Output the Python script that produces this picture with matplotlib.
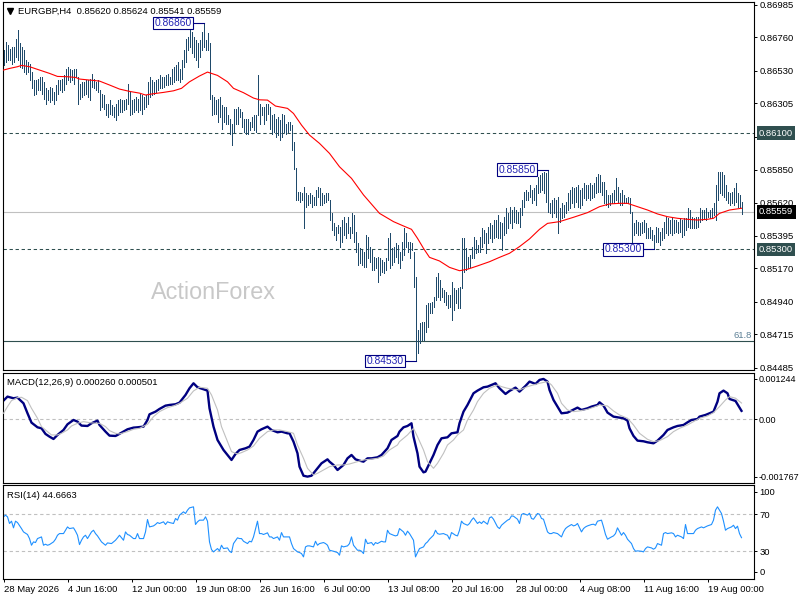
import matplotlib
matplotlib.use("Agg")
import matplotlib.pyplot as plt
import matplotlib.transforms as mtransforms
from matplotlib.lines import Line2D
import numpy as np

plt.rcParams['font.family'] = ['Liberation Sans', 'DejaVu Sans']

# EURGBP H4 bars, high / low in points (1e-5)
bar_high = [
    86672, 86729, 86706, 86683, 86695, 86695, 86752, 86810, 86718, 86695,
    86672, 86603, 86592, 86580, 86522, 86465, 86465, 86476, 86488, 86488,
    86453, 86408, 86396, 86419, 86408, 86385, 86431, 86465, 86465, 86476,
    86499, 86545, 86557, 86545, 86534, 86545, 86545, 86488, 86442, 86453,
    86453, 86465, 86465, 86476, 86511, 86476, 86453, 86465, 86396, 86373,
    86362, 86304, 86304, 86327, 86293, 86281, 86304, 86327, 86339, 86327,
    86327, 86339, 86442, 86385, 86327, 86339, 86350, 86339, 86373, 86362,
    86350, 86362, 86453, 86488, 86465, 86453, 86465, 86476, 86499, 86488,
    86488, 86499, 86511, 86488, 86545, 86557, 86568, 86592, 86545, 86603,
    86672, 86752, 86764, 86810, 86798, 86764, 86741, 86718, 86741, 86798,
    86860, 86741, 86787, 86718, 86362, 86350, 86327, 86339, 86350, 86293,
    86281, 86281, 86224, 86201, 86166, 86270, 86270, 86281, 86270, 86247,
    86201, 86201, 86201, 86178, 86212, 86224, 86224, 86499, 86304, 86281,
    86281, 86304, 86304, 86281, 86224, 86235, 86201, 86212, 86189, 86235,
    86224, 86166, 86178, 86178, 86155, 86040, 85860, 85698, 85698, 85686,
    85732, 85686, 85675, 85686, 85675, 85663, 85709, 85732, 85721, 85686,
    85675, 85686, 85686, 85640, 85548, 85479, 85457, 85468, 85457, 85502,
    85525, 85479, 85525, 85457, 85548, 85537, 85422, 85342, 85307, 85296,
    85284, 85399, 85388, 85319, 85296, 85250, 85238, 85250, 85238, 85227,
    85215, 85238, 85376, 85411, 85307, 85319, 85342, 85330, 85284, 85353,
    85445, 85411, 85353, 85353, 85342, 85284, 85112, 84745, 84791, 84802,
    84802, 84917, 84928, 84928, 84940, 84974, 85112, 85135, 85089, 85032,
    85020, 85009, 84986, 84986, 85078, 85032, 85020, 85032, 85043, 85376,
    85376, 85307, 85250, 85261, 85319, 85388, 85365, 85330, 85388, 85445,
    85434, 85411, 85457, 85479, 85468, 85502, 85502, 85537, 85491, 85479,
    85525, 85583, 85548, 85594, 85571, 85594, 85571, 85560, 85583, 85640,
    85698, 85709, 85698, 85744, 85709, 85721, 85744, 85801, 85812, 85824,
    85835, 85829, 85850, 85617, 85640, 85652, 85640, 85663, 85583, 85617,
    85606, 85629, 85686, 85709, 85732, 85721, 85732, 85744, 85709, 85721,
    85755, 85744, 85744, 85755, 85744, 85755, 85801, 85819, 85812, 85767,
    85767, 85709, 85675, 85675, 85686, 85709, 85789, 85732, 85686, 85709,
    85675, 85652, 85663, 85652, 85560, 85479, 85502, 85491, 85479, 85491,
    85502, 85479, 85445, 85457, 85434, 85399, 85457, 85445, 85422, 85445,
    85491, 85525, 85514, 85502, 85514, 85502, 85502, 85491, 85514, 85502,
    85514, 85514, 85583, 85571, 85525, 85514, 85525, 85525, 85583, 85571,
    85571, 85583, 85560, 85571, 85583, 85617, 85744, 85835, 85835, 85835,
    85812, 85744, 85698, 85686, 85698, 85721, 85755, 85686, 85675, 85624,
]
bar_low = [
    86568, 86592, 86603, 86603, 86580, 86592, 86626, 86603, 86557, 86546,
    86522, 86511, 86522, 86465, 86408, 86362, 86373, 86396, 86396, 86373,
    86339, 86304, 86327, 86316, 86327, 86304, 86327, 86373, 86396, 86385,
    86396, 86442, 86465, 86453, 86465, 86442, 86488, 86304, 86339, 86350,
    86362, 86373, 86350, 86327, 86419, 86408, 86396, 86385, 86258, 86281,
    86270, 86224, 86212, 86235, 86224, 86212, 86189, 86224, 86247, 86247,
    86258, 86270, 86304, 86224, 86235, 86247, 86258, 86247, 86258, 86235,
    86270, 86281, 86304, 86350, 86362, 86373, 86385, 86396, 86408, 86408,
    86419, 86431, 86431, 86442, 86442, 86453, 86465, 86465, 86453, 86476,
    86557, 86592, 86672, 86695, 86649, 86626, 86603, 86557, 86626, 86672,
    86695, 86672, 86672, 86339, 86224, 86235, 86235, 86178, 86212, 86132,
    86178, 86166, 86166, 86097, 86017, 86109, 86166, 86166, 86212, 86143,
    86109, 86097, 86097, 86120, 86143, 86120, 86109, 86224, 86166, 86224,
    86166, 86189, 86235, 86132, 86097, 86109, 86074, 86086, 86051, 86074,
    86109, 86097, 86109, 86120, 85982, 85856, 85640, 85640, 85629, 85640,
    85445, 85594, 85606, 85617, 85594, 85606, 85606, 85663, 85606, 85606,
    85617, 85629, 85640, 85502, 85434, 85399, 85365, 85411, 85319, 85353,
    85399, 85376, 85411, 85376, 85411, 85353, 85284, 85193, 85204, 85193,
    85181, 85181, 85238, 85215, 85158, 85158, 85170, 85078, 85124, 85147,
    85135, 85158, 85227, 85170, 85193, 85215, 85250, 85204, 85170, 85227,
    85261, 85319, 85284, 85238, 85296, 85043, 84530, 84584, 84653, 84676,
    84676, 84733, 84768, 84860, 84860, 84905, 84951, 84974, 84951, 84974,
    84940, 84917, 84894, 84905, 84814, 84883, 84928, 84894, 84894, 85032,
    85147, 85158, 85170, 85181, 85238, 85238, 85273, 85284, 85284, 85319,
    85342, 85273, 85342, 85376, 85353, 85376, 85388, 85376, 85376, 85296,
    85399, 85411, 85445, 85479, 85445, 85491, 85479, 85479, 85457, 85537,
    85594, 85640, 85640, 85663, 85617, 85640, 85606, 85686, 85698, 85709,
    85686, 85629, 85560, 85548, 85525, 85548, 85525, 85411, 85491, 85514,
    85525, 85548, 85571, 85583, 85617, 85594, 85629, 85594, 85583, 85606,
    85652, 85640, 85652, 85640, 85652, 85663, 85686, 85698, 85698, 85675,
    85617, 85606, 85594, 85606, 85617, 85617, 85640, 85629, 85606, 85606,
    85617, 85617, 85617, 85548, 85353, 85399, 85411, 85399, 85399, 85411,
    85422, 85376, 85376, 85376, 85365, 85300, 85353, 85353, 85330, 85365,
    85376, 85411, 85399, 85411, 85399, 85411, 85422, 85411, 85422, 85388,
    85399, 85434, 85457, 85445, 85445, 85445, 85445, 85457, 85491, 85502,
    85514, 85502, 85525, 85514, 85525, 85537, 85502, 85640, 85686, 85675,
    85663, 85640, 85617, 85606, 85617, 85606, 85629, 85594, 85583, 85541,
]

# red moving average read at selected bars (points)
ma_bar = [0, 3, 7, 9, 13, 18, 23, 27, 32, 36,
          38, 43, 48, 53, 58, 63, 68, 71, 75, 80,
          85, 89, 93, 98, 102, 107, 112, 115, 120, 125,
          128, 132, 136, 142, 145, 149, 153, 158, 163, 168,
          174, 180, 188, 195, 200, 204, 207, 210, 213, 218,
          223, 228, 232, 237, 243, 248, 253, 258, 263, 268,
          272, 278, 285, 292, 298, 303, 308, 312, 317, 322,
          327, 332, 337, 342, 347, 352, 355, 358, 363, 369]
ma_val = [86535, 86546, 86558, 86567, 86558, 86535, 86512, 86491, 86489, 86484,
          86473, 86466, 86459, 86432, 86404, 86388, 86376, 86363, 86372, 86381,
          86392, 86409, 86454, 86494, 86521, 86498, 86454, 86409, 86379, 86342,
          86330, 86328, 86287, 86271, 86236, 86156, 86087, 86030, 85961, 85869,
          85789, 85675, 85548, 85491, 85461, 85438, 85376, 85307, 85245, 85220,
          85176, 85153, 85163, 85186, 85215, 85245, 85273, 85319, 85372, 85438,
          85479, 85491, 85521, 85553, 85594, 85613, 85617, 85617, 85594, 85571,
          85544, 85525, 85514, 85507, 85502, 85507, 85514, 85548, 85571, 85583]

# MACD main and signal, in 1e-6
macd_bar = [0, 2, 5, 7, 10, 12, 14, 17, 19, 21,
            23, 25, 27, 30, 32, 35, 37, 39, 42, 44,
            47, 48, 51, 53, 56, 57, 60, 62, 65, 67,
            70, 72, 73, 76, 78, 81, 83, 86, 88, 91,
            93, 95, 97, 100, 102, 103, 105, 107, 110, 112,
            114, 116, 118, 121, 123, 125, 127, 129, 132, 134,
            137, 139, 142, 143, 145, 147, 148, 150, 152, 154,
            157, 159, 162, 163, 165, 167, 170, 172, 174, 176,
            178, 180, 182, 184, 187, 189, 192, 194, 197, 198,
            200, 202, 204, 205, 207, 208, 210, 211, 213, 215,
            217, 219, 222, 224, 227, 228, 230, 232, 235, 237,
            240, 242, 246, 248, 251, 253, 256, 258, 261, 263,
            266, 268, 270, 272, 273, 275, 277, 279, 282, 284,
            287, 289, 292, 294, 297, 298, 300, 302, 305, 307,
            310, 312, 313, 315, 317, 320, 322, 325, 327, 330,
            332, 335, 337, 340, 342, 344, 347, 348, 351, 353,
            355, 357, 358, 360, 362, 363, 366, 367, 369]
macd_val = [576, 699, 648, 668, 493, 185, -103, -247, -278, -452,
            -535, -607, -483, -329, -154, -21, -72, -195, -206, -123,
            -41, -175, -380, -504, -514, -483, -380, -308, -257, -247,
            -226, -21, 154, 236, 319, 421, 442, 463, 514, 750,
            956, 1110, 987, 925, 884, 339, -226, -637, -946, -1100,
            -1254, -1069, -946, -894, -843, -637, -380, -308, -226, -329,
            -401, -380, -432, -432, -689, -1049, -1460, -1740, -1767, -1740,
            -1511, -1357, -1234, -1306, -1408, -1563, -1408, -1203, -1100, -1234,
            -1275, -1306, -1203, -1203, -1172, -1100, -894, -637, -514, -380,
            -247, -206, -123, -535, -1049, -1460, -1635, -1614, -1357, -1100,
            -792, -586, -555, -432, -401, -123, 236, 442, 802, 884,
            987, 1007, 1110, 956, 781, 874, 977, 853, 1028, 1162,
            1090, 1213, 1244, 1162, 905, 596, 391, 185, 206, 267,
            360, 288, 339, 391, 442, 524, 421, 206, 82, 62,
            31, -41, -278, -514, -658, -678, -709, -740, -658, -483,
            -329, -247, -206, -175, -93, -21, 10, 82, 134, 185,
            236, 545, 802, 884, 802, 627, 565, 463, 260]
signal_bar = [0, 2, 4, 7, 9, 12, 14, 17, 19, 22,
              24, 27, 29, 32, 34, 37, 40, 43, 46, 48,
              51, 53, 56, 58, 62, 65, 68, 72, 75, 78,
              82, 85, 88, 92, 95, 98, 102, 104, 107, 109,
              112, 114, 117, 119, 122, 125, 128, 132, 135, 138,
              142, 145, 147, 150, 152, 155, 157, 160, 163, 167,
              170, 173, 177, 180, 183, 187, 190, 193, 197, 198,
              202, 205, 207, 210, 212, 215, 217, 220, 222, 225,
              227, 230, 232, 235, 237, 240, 243, 247, 249, 252,
              255, 258, 262, 265, 268, 272, 274, 277, 279, 282,
              285, 288, 292, 295, 298, 302, 305, 308, 312, 315,
              318, 322, 325, 328, 332, 335, 338, 342, 345, 348,
              352, 355, 358, 361, 363, 366, 369]
signal_val = [185, 391, 576, 668, 678, 576, 339, 31, -226, -380,
              -483, -483, -432, -329, -206, -123, -72, -103, -123, -123,
              -226, -350, -432, -452, -380, -308, -278, -154, 82, 236,
              360, 411, 493, 648, 874, 987, 956, 750, 288, -226,
              -689, -997, -1069, -1028, -946, -822, -586, -380, -329, -329,
              -380, -432, -792, -1203, -1511, -1717, -1665, -1563, -1460, -1408,
              -1408, -1378, -1306, -1254, -1234, -1203, -1131, -946, -792, -689,
              -483, -278, -535, -946, -1306, -1511, -1357, -1049, -792, -637,
              -483, -329, -21, 288, 545, 802, 956, 1059, 1007, 956,
              925, 905, 1007, 1059, 1110, 1162, 1059, 802, 493, 288,
              236, 257, 308, 370, 442, 411, 257, 134, 31, -175,
              -432, -617, -689, -658, -535, -380, -278, -175, -72, 31,
              103, 206, 391, 596, 700, 650, 501]

# RSI(14)
rsi_bar = [0, 1, 2, 3, 4, 5, 6, 7, 9, 10,
           12, 13, 14, 15, 16, 17, 19, 20, 21, 22,
           23, 25, 26, 27, 28, 30, 31, 32, 33, 35,
           36, 37, 38, 39, 40, 41, 42, 44, 45, 46,
           47, 49, 50, 51, 52, 54, 55, 56, 57, 58,
           60, 61, 62, 63, 65, 66, 67, 68, 70, 71,
           72, 73, 75, 76, 77, 78, 80, 81, 82, 83,
           85, 86, 87, 88, 90, 91, 92, 93, 95, 96,
           97, 98, 100, 101, 102, 103, 104, 105, 107, 108,
           109, 110, 112, 113, 114, 115, 117, 118, 119, 120,
           122, 123, 124, 125, 127, 128, 129, 130, 132, 133,
           134, 135, 137, 138, 139, 140, 142, 143, 144, 145,
           147, 148, 149, 150, 151, 152, 153, 155, 156, 157,
           158, 160, 161, 162, 163, 165, 166, 167, 168, 169,
           170, 172, 173, 174, 175, 177, 178, 179, 180, 181,
           182, 184, 185, 186, 187, 189, 190, 191, 192, 193,
           195, 196, 197, 198, 200, 201, 202, 203, 205, 206,
           207, 208, 210, 211, 212, 213, 215, 216, 217, 218,
           220, 221, 222, 223, 224, 226, 227, 228, 229, 230,
           232, 233, 234, 235, 237, 238, 239, 240, 242, 243,
           244, 245, 247, 248, 249, 250, 252, 253, 254, 255,
           257, 258, 259, 260, 262, 263, 264, 265, 267, 268,
           269, 270, 272, 273, 274, 275, 277, 278, 279, 280,
           281, 282, 284, 285, 286, 287, 289, 290, 291, 292,
           294, 295, 296, 297, 299, 300, 301, 302, 304, 305,
           306, 307, 309, 310, 311, 312, 314, 315, 316, 317,
           319, 320, 321, 322, 324, 325, 326, 327, 329, 330,
           331, 332, 334, 335, 336, 337, 339, 340, 341, 342,
           344, 345, 346, 347, 349, 350, 351, 352, 354, 355,
           356, 357, 359, 360, 361, 362, 364, 365, 366, 367,
           368, 369]
rsi_val = [67.2, 69.0, 67.2, 60.0, 62.5, 55.3, 62.5, 61.0, 54.5, 50.9,
           48.1, 43.7, 36.5, 40.1, 39.4, 43.7, 45.5, 36.5, 37.6, 36.5,
           37.2, 40.1, 43.0, 47.3, 49.1, 49.1, 52.7, 56.3, 54.5, 55.3,
           51.7, 47.3, 37.2, 41.9, 45.5, 47.3, 43.7, 50.9, 52.7, 49.1,
           46.6, 40.1, 38.3, 36.5, 39.0, 38.3, 40.1, 41.9, 44.5, 47.3,
           41.9, 50.9, 48.1, 47.3, 43.7, 43.7, 49.1, 43.7, 43.7, 50.9,
           64.3, 56.3, 57.4, 58.9, 61.0, 60.0, 61.8, 58.9, 61.8, 61.0,
           60.0, 65.4, 63.6, 69.0, 72.6, 70.8, 74.4, 76.9, 78.0, 58.9,
           61.8, 63.6, 63.6, 67.2, 62.5, 40.1, 31.8, 29.3, 32.9, 30.4,
           36.5, 32.9, 33.6, 30.0, 28.6, 38.3, 44.5, 43.7, 43.7, 40.8,
           38.3, 40.8, 40.1, 45.5, 62.5, 49.1, 49.1, 48.1, 49.9, 45.5,
           45.5, 43.7, 45.5, 41.9, 50.2, 45.5, 45.5, 45.5, 38.3, 32.9,
           29.3, 28.6, 27.5, 23.9, 34.7, 35.8, 35.8, 34.7, 40.8, 36.5,
           38.3, 39.4, 38.3, 36.5, 31.1, 30.0, 29.3, 28.6, 25.7, 35.8,
           34.7, 35.8, 38.3, 45.5, 36.5, 31.1, 31.1, 30.0, 27.5, 43.0,
           38.3, 39.4, 36.5, 39.4, 38.3, 40.8, 40.1, 40.1, 52.7, 49.1,
           47.3, 46.6, 47.3, 54.5, 50.9, 47.3, 51.7, 49.1, 41.9, 23.9,
           28.6, 32.9, 34.7, 38.3, 40.1, 43.0, 47.3, 52.7, 49.1, 48.4,
           49.1, 48.1, 47.3, 43.0, 50.2, 47.3, 46.6, 52.7, 62.5, 60.0,
           58.1, 60.0, 63.6, 66.1, 60.0, 61.8, 60.0, 62.5, 59.2, 66.1,
           67.2, 64.6, 56.3, 54.5, 58.1, 60.0, 63.6, 64.6, 68.2, 67.9,
           64.6, 60.0, 69.7, 70.8, 69.0, 71.1, 65.4, 64.6, 70.8, 70.0,
           65.4, 64.6, 50.9, 49.1, 49.1, 50.2, 49.1, 47.3, 45.5, 50.9,
           54.5, 56.3, 58.9, 57.4, 58.1, 60.0, 50.9, 54.5, 56.3, 57.4,
           58.9, 59.2, 58.1, 62.5, 63.6, 56.3, 48.1, 43.0, 45.5, 46.6,
           49.1, 55.3, 47.3, 50.2, 47.3, 43.0, 38.3, 32.9, 30.0, 30.4,
           30.0, 29.3, 32.9, 34.7, 33.6, 32.2, 33.6, 38.3, 36.5, 49.1,
           50.2, 49.1, 49.9, 49.1, 45.5, 47.3, 45.5, 43.7, 58.9, 49.1,
           49.1, 49.1, 52.7, 54.5, 56.3, 55.3, 56.3, 57.4, 58.9, 63.6,
           74.4, 78.0, 70.8, 62.5, 52.7, 54.5, 56.3, 58.1, 54.5, 57.1,
           49.1, 44.6663]

price_ticks = [0.86985, 0.86760, 0.86530, 0.86305, 0.86075, 0.85850,
               0.85620, 0.85395, 0.85170, 0.84940, 0.84715, 0.84485]
swing_bar = [100, 272, 206, 325]
swing_price = [0.86860, 0.85850, 0.84530, 0.85300]
resistance = 0.86100
support = 0.85300
fib_618 = 0.84669
last_ohlc = [0.85620, 0.85624, 0.85541, 0.85559]
time_bar = [0, 32, 64, 96, 128, 160, 192, 224, 256, 288, 320, 352]
time_labels = ['28 May 2026', '4 Jun 16:00', '12 Jun 00:00', '19 Jun 08:00',
               '26 Jun 16:00', '6 Jul 00:00', '13 Jul 08:00', '20 Jul 16:00',
               '28 Jul 00:00', '4 Aug 08:00', '11 Aug 16:00', '19 Aug 00:00']

W, H = 800, 600
FS = 6.8
BAR_COLOR = '#1f4a6b'
SLATE = '#2f4f4f'
SILVER = '#c0c0c0'

fig = plt.figure(figsize=(8, 6), dpi=100, facecolor='white')


def panel(top, bottom):
    return fig.add_axes([3 / W, 1 - bottom / H, 751 / W, (bottom - top) / H])


ax = panel(2, 370)
ax_macd = panel(373, 483)
ax_rsi = panel(485, 579)

for a in (ax, ax_macd, ax_rsi):
    a.set_xlim(-0.25, 375.25)
    for s in a.spines.values():
        s.set_color('black')
        s.set_linewidth(0.8)
    a.yaxis.tick_right()
    a.tick_params(axis='y', length=2.2, width=0.7, pad=1.5, labelsize=FS, colors='black')
    a.tick_params(axis='x', length=0, labelbottom=False)

# --- price panel
high = np.array(bar_high) / 1e5
low = np.array(bar_low) / 1e5
bars = np.arange(len(high))
dash = (0, (3.2, 2.6))

ax.axhline(resistance, color=SLATE, lw=0.75, ls=dash, zorder=1)
ax.axhline(support, color=SLATE, lw=0.75, ls=dash, zorder=1)
ax.axhline(last_ohlc[3], color=SILVER, lw=0.8, zorder=1)
ax.axhline(fib_618, color=SLATE, lw=0.8, zorder=1)
ax.vlines(bars, low, high, color=BAR_COLOR, lw=0.72, antialiased=False, zorder=2)
ax.plot(ma_bar, np.array(ma_val) / 1e5, color='red', lw=0.8, zorder=3)

ax.set_ylim(0.844692, 0.870036)
ax.set_yticks(price_ticks)
# the 0.86075 tick sits under the highlighted 0.86100 box, as on the terminal
ax.set_yticklabels(['' if v == 0.86075 else f'{v:.5f}' for v in price_ticks])

ax.text(374.25, 0.84710, '61.8', ha='right', va='center', fontsize=FS, color='#5b7f95')
ax.text(0.1967, 0.1921, 'ActionForex', transform=ax.transAxes, fontsize=16.8,
        color='#c8c8c8', ha='left', va='baseline', zorder=0)

for b, p in zip(swing_bar, swing_price):
    ax.plot([b - 5.3, b], [p, p], color='#000080', lw=0.8, zorder=5)
    ax.text(b - 6, p, f'{p:.5f}', ha='right', va='center', fontsize=7.4, color='#2323b4',
            bbox=dict(boxstyle='square,pad=0.12', fc='white', ec='#000080', lw=0.8), zorder=6)

trans = mtransforms.blended_transform_factory(ax.transAxes, ax.transData)
for val, col in [(resistance, SLATE), (last_ohlc[3], 'black'), (support, SLATE)]:
    ax.text(1 + 5 / 751, val, f'{val:.5f}', transform=trans, ha='left', va='center',
            fontsize=FS, color='white', clip_on=False, zorder=10,
            bbox=dict(boxstyle='square,pad=0.25', fc=col, ec='none'))

fig.add_artist(Line2D([9.7 / W], [1 - 10.5 / H], marker='v', markersize=4.2,
                      color='black', transform=fig.transFigure))
fig.text(18 / W, 1 - 14 / H, 'EURGBP,H4  ' + ' '.join(f'{v:.5f}' for v in last_ohlc),
         fontsize=FS, va='baseline')

# --- MACD panel
ax_macd.axhline(0, color=SILVER, lw=0.8, ls=(0, (3, 2.5)), zorder=1)
ax_macd.plot(macd_bar, np.array(macd_val) * 1e-6, color='#000080', lw=1.7, zorder=2)
ax_macd.plot(signal_bar, np.array(signal_val) * 1e-6, color=SILVER, lw=0.8, zorder=3)
ax_macd.set_ylim(-0.001964, 0.001427)
ax_macd.set_yticks([0.001244, 0.0, -0.001767])
ax_macd.set_yticklabels(['0.001244', '0.00', '-0.001767'])
ax_macd.tick_params(axis='y', pad=0.8, labelsize=6.5)
fig.text(7 / W, 1 - 385 / H,
         f'MACD(12,26,9) {macd_val[-1] * 1e-6:.6f} {signal_val[-1] * 1e-6:.6f}',
         fontsize=FS, va='baseline')

# --- RSI panel
ax_rsi.axhline(70, color=SILVER, lw=0.8, ls=(0, (3, 2.5)), zorder=1)
ax_rsi.axhline(30, color=SILVER, lw=0.8, ls=(0, (3, 2.5)), zorder=1)
ax_rsi.plot(rsi_bar, rsi_val, color='#1e90ff', lw=0.8, zorder=2)
ax_rsi.set_ylim(0, 101.6)
ax_rsi.set_yticks([94.1, 70, 30, 7.6])
ax_rsi.set_yticklabels(['100', '70', '30', '0'])
fig.text(7 / W, 1 - 498 / H, f'RSI(14) {rsi_val[-1]:.4f}', fontsize=FS, va='baseline')

ax_rsi.set_xticks(time_bar)
ax_rsi.tick_params(axis='x', length=2.2, width=0.7, labelbottom=False)
xtrans = mtransforms.blended_transform_factory(ax_rsi.transData, ax_rsi.transAxes)
for b, lab in zip(time_bar, time_labels):
    ax_rsi.text(b, -0.1383, lab, transform=xtrans, ha='left', va='baseline',
                fontsize=FS, clip_on=False)

fig.savefig('out.png', dpi=100, facecolor='white')
